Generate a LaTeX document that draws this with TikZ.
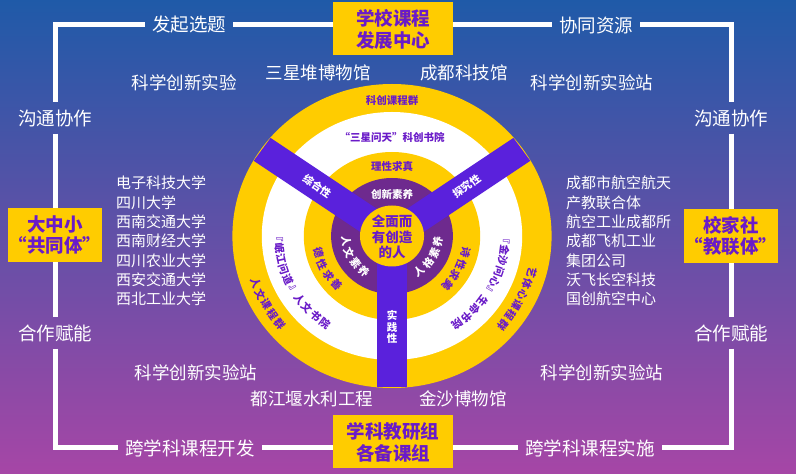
\documentclass[tikz,border=0pt]{standalone}
\usepackage{fontspec}
\setmainfont{Noto Sans CJK SC}
\usetikzlibrary{positioning}
\definecolor{hiyellow}{HTML}{FFCC00}
\definecolor{boxpurple}{HTML}{6A1BC8}
\definecolor{spokeviolet}{HTML}{5A21DC}
\definecolor{ringplum}{HTML}{6E2A8E}
\definecolor{bgblue}{HTML}{1F5AA8}
\definecolor{bgmid}{HTML}{6456AE}
\definecolor{bgpink}{HTML}{A646A6}
\tikzset{
  framebox/.style={fill=hiyellow, minimum width=120pt, minimum height=53pt, align=center, text=boxpurple, inner sep=0pt, font=\fontsize{18.5}{22}\selectfont\bfseries},
  sidebox/.style={framebox, minimum width=94pt, minimum height=54pt, font=\fontsize{18.5}{21}\selectfont\bfseries},
  framelabel/.style={text=white, inner sep=7pt, font=\fontsize{18.5}{20}\selectfont},
  frameline/.style={white, line width=5pt},
  place/.style={text=white, inner sep=0pt, font=\fontsize{17.5}{19}\selectfont},
  partner/.style={text=white, inner sep=0pt, align=left, font=\fontsize{15}{19.3}\selectfont},
  ringtext/.style={text=boxpurple, inner sep=0pt, font=\fontsize{10.5}{12}\selectfont\bfseries},
  spoketext/.style={text=white, inner sep=0pt, font=\fontsize{10.5}{11.5}\selectfont\bfseries},
  coretext/.style={text=boxpurple, inner sep=0pt, align=center, font=\fontsize{13.5}{15.5}\selectfont\bfseries}
}
% characters along an arc: style, radius, first angle, step, rotation offset, characters
\newcommand{\arclabel}[6]{%
  \foreach \ch [count=\i from 0] in {#6}
    \node[#1, rotate={#3+\i*(#4)+(#5)}] at ({#3+\i*(#4)}:#2) {\ch};
}

\begin{document}
\begin{tikzpicture}[x=1pt, y=1pt]
  \useasboundingbox (0,0) rectangle (796,474);
  \shade[top color=bgblue, middle color=bgmid, bottom color=bgpink] (0,0) rectangle (796,474);

  % frame
  \node[framebox] (school) at (393,445) {学校课程\\发展中心};
  \node[framebox] (subject) at (393,32) {学科教研组\\各备课组};
  \node[sidebox] (unity) at (55,239) {大中小\\“共同体”};
  \node[sidebox] (home) at (731,238) {校家社\\“教联体”};

  \node[framelabel] (launch) at (189,449) {发起选题};
  \node[framelabel] (share) at (596,449) {协同资源};
  \node[framelabel] (talkl) at (55,356) {沟通协作};
  \node[framelabel] (talkr) at (731,356) {沟通协作};
  \node[framelabel] (helpl) at (55,141) {合作赋能};
  \node[framelabel] (helpr) at (731,141) {合作赋能};
  \node[framelabel] (develop) at (190,26) {跨学科课程开发};
  \node[framelabel] (apply) at (590,26) {跨学科课程实施};

  \coordinate (tl) at (55,449);
  \coordinate (tr) at (731,449);
  \coordinate (bl) at (55,26);
  \coordinate (br) at (731,26);

  \draw[frameline] (school.west |- launch.east) -- (launch.east);
  \draw[frameline] (launch.west) -- (tl) -- (talkl.north);
  \draw[frameline] (talkl.south) -- (unity.north);
  \draw[frameline] (unity.south) -- (helpl.north);
  \draw[frameline] (helpl.south) -- (bl) -- (develop.west);
  \draw[frameline] (develop.east) -- (develop.east -| subject.west);
  \draw[frameline] (school.east |- share.west) -- (share.west);
  \draw[frameline] (share.east) -- (tr) -- (talkr.north);
  \draw[frameline] (talkr.south) -- (home.north);
  \draw[frameline] (home.south) -- (helpr.north);
  \draw[frameline] (helpr.south) -- (br) -- (apply.east);
  \draw[frameline] (apply.west) -- (apply.west -| subject.east);

  % resources
  \node[place] (lab1) at (184,391) {科学创新实验};
  \node[place] (sxd) at (318,401) {三星堆博物馆};
  \node[place] (cdkj) at (464,401) {成都科技馆};
  \node[place] (lab2) at (592,391) {科学创新实验站};
  \node[place] (lab3) at (196,101) {科学创新实验站};
  \node[place] (djy) at (312,75) {都江堰水利工程};
  \node[place] (jinsha) at (463,75) {金沙博物馆};
  \node[place] (lab4) at (602,101) {科学创新实验站};

  \node[partner, anchor=west] (unis) at (116,233)
    {电子科技大学\\四川大学\\西南交通大学\\西南财经大学\\四川农业大学\\西安交通大学\\西北工业大学};
  \node[partner, anchor=west] (firms) at (566,233)
    {成都市航空航天\\产教联合体\\航空工业成都所\\成都飞机工业\\集团公司\\沃飞长空科技\\国创航空中心};

  % wheel
  \begin{scope}[shift={(392,238)}, xscale=1.05]
    \fill[hiyellow] (0,0) circle (152);
    \fill[white] (0,0) circle (124);
    \fill[hiyellow] (0,0) circle (84);
    \fill[ringplum] (0,0) circle (58);
    \foreach \a in {35,145,270}
      \fill[spokeviolet, rotate=\a] (0,-14) rectangle (151,14);
    \fill[hiyellow] (0,0) circle (30.5);

    \node[coretext] (core) at (0,-1) {全面而\\有创造\\的人};
    \node[ringtext] (kc) at (90:136) {科创课程群};
    \node[ringtext] (sx) at (90:99) {“三星问天”科创书院};
    \node[ringtext] (lx) at (90:70) {理性求真};
    \node[spoketext] (cx) at (90:42) {创新素养};

    \node[spoketext, rotate=-35] (zh) at (145:87) {综合性};
    \node[spoketext, rotate=35] (tj) at (35:87) {探究性};
    \node[spoketext, align=center] (sj) at (270:91) {实\\践\\性};

    \arclabel{ringtext}{138}{200}{4.9}{90}{人,文,课,程,群}
    \arclabel{ringtext}{108}{180.5}{5.9}{90}{『,岷,江,问,道,』,人,文,书,院}
    \arclabel{ringtext}{72}{193.5}{9.8}{90}{德,性,求,善}
    \arclabel{spoketext}{44}{187}{15.5}{90}{人,文,素,养}

    \arclabel{ringtext}{138}{344.5}{-4.9}{-90}{艺,体,心,课,程,群}
    \arclabel{ringtext}{108}{358.5}{-5.9}{-90}{『,金,沙,问,心,』,生,命,书,院}
    \arclabel{ringtext}{72}{346.5}{-9.8}{-90}{诗,性,求,美}
    \arclabel{spoketext}{44}{306.5}{15.5}{90}{人,格,素,养}
  \end{scope}
\end{tikzpicture}
\end{document}
